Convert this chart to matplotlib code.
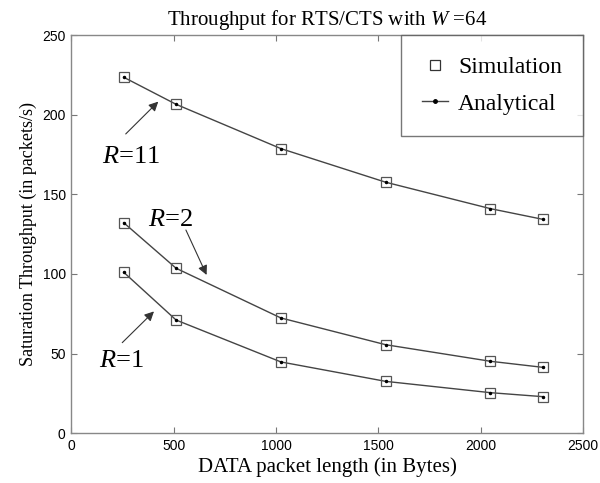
import matplotlib
matplotlib.use("Agg")
import matplotlib.pyplot as plt
from matplotlib.lines import Line2D

plt.rcParams['mathtext.fontset'] = 'custom'
plt.rcParams['mathtext.it'] = 'Liberation Serif:italic'
plt.rcParams['mathtext.rm'] = 'Liberation Serif'

# Data
packet_len = [256, 512, 1024, 1536, 2048, 2304]
r11 = [223.5, 206.5, 178.7, 157.6, 141.0, 134.3]
r2 = [132.2, 103.6, 72.4, 55.6, 45.2, 41.4]
r1 = [101.1, 71.1, 44.8, 32.6, 25.5, 23.0]
xticks = [0, 500, 1000, 1500, 2000, 2500]
yticks = [0, 50, 100, 150, 200, 250]

serif = ['Liberation Serif', 'DejaVu Serif']
sans = ['Liberation Sans', 'DejaVu Sans']

fig = plt.figure(figsize=(6.0, 4.83), dpi=100)
ax = fig.add_axes([0.1188, 0.1029, 0.8529, 0.8246])

lc = '#444444'
for ys in (r11, r2, r1):
    ax.plot(packet_len, ys, '-', color=lc, lw=1.0, marker='.', ms=3, mfc='black', mec='black')
    ax.plot(packet_len, ys, 's', ms=7, mfc='none', mec='#555555', mew=0.9)

ax.set_xlim(0, 2500)
ax.set_ylim(0, 250)
ax.set_xticks(xticks)
ax.set_yticks(yticks)
ax.tick_params(direction='in', top=True, right=True, length=4, width=0.8, color='#777777',
               labelsize=10, pad=4)
for lab in ax.get_xticklabels() + ax.get_yticklabels():
    lab.set_family(sans)
for s in ax.spines.values():
    s.set_color('#888888')
    s.set_linewidth(1.0)

ax.set_title('Throughput for RTS/CTS with $W$ =64', family=serif, fontsize=15, pad=7)
ax.set_xlabel('DATA packet length (in Bytes)', family=serif, fontsize=15, labelpad=3)
ax.set_ylabel('Saturation Throughput (in packets/s)', family=serif, fontsize=13, labelpad=4)

ann_kw = dict(family=serif, fontsize=19, va='center', ha='left')
arrow = dict(arrowstyle='-|>', color='#333333', lw=0.8, mutation_scale=14, shrinkA=0, shrinkB=0)
ax.annotate('', xy=(425, 208.2), xytext=(266, 187.9), arrowprops=arrow)
ax.text(148, 173.6, '$R$=11', **ann_kw)
ax.annotate('', xy=(661, 99.4), xytext=(560, 127.6), arrowprops=arrow)
ax.text(376, 133.9, '$R$=2', **ann_kw)
ax.annotate('', xy=(404, 76.5), xytext=(249, 56.9), arrowprops=arrow)
ax.text(137, 45.4, '$R$=1', **ann_kw)

handles = [Line2D([], [], ls='none', marker='s', ms=7, mfc='none', mec='#333333', mew=0.9),
           Line2D([], [], ls='-', color=lc, lw=1.0, marker='.', ms=5, mfc='black', mec='black')]
leg = ax.legend(handles, ['Simulation', 'Analytical'], loc='upper right',
                prop={'family': serif, 'size': 17}, frameon=True, fancybox=False,
                edgecolor='#555555', borderpad=0.9, labelspacing=0.65, handlelength=1.1,
                handletextpad=0.4, borderaxespad=0)
leg.get_frame().set_linewidth(1.0)

fig.savefig('out.png', dpi=100, facecolor='white')
